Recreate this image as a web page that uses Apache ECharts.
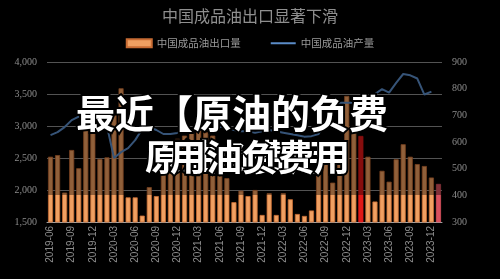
<!DOCTYPE html>
<html lang="zh">
<head>
  <meta charset="UTF-8">
  <title>中国成品油出口显著下滑</title>
  <style>
    html, body { margin: 0; padding: 0; background: #000; }
    #main { width: 500px; height: 279px; }
  </style>
</head>
<body>
  <div id="main"></div>
  <script src="https://cdn.jsdelivr.net/npm/echarts@6/dist/echarts.min.js"></script>
  <script>
    // 月份：2019-06 到 2024-01
    var months = [];
    for (var y = 2019, m = 6; y < 2024 || m <= 1; ) {
      months.push(y + '-' + (m < 10 ? '0' + m : m));
      m++;
      if (m > 12) { m = 1; y++; }
    }

    // 中国成品油出口量（左轴）
    var exportVol = [
      2520, 2545, 1960, 2625, 2340, 3000, 3050, 2485, 2510, 3250,
      3590, 1885, 1885, 1600, 2045, 1905, 2700, 2750, 2800, 2850,
      2900, 2950, 2900, 2850, 2600, 2185, 1810, 1990, 1905, 2000,
      1610, 1950, 1610, 1950, 1855, 1625, 1595, 1680, 2500, 2600,
      2115, 2450, 3470, 3000, 2845, 2520, 1820, 2300, 2130, 2480,
      2715, 2520, 2405, 2375, 2195, 2095
    ];

    // 中国成品油产量（右轴）
    var output = [
      626, 637, 656, 682, 695, 700, 705, 700, 660, 540,
      562, 577, 607, 649, 656, 645, 630, 630, 634, 645,
      645, 649, 645, 652, 656, 656, 645, 640, 640, 635,
      640, 645, 640, 635, 630, 625, 620, 622, 630, 680,
      720, 747, 747, 747, 749, 755, 780, 798, 785, 822,
      855, 850, 838, 778, 789, null
    ];

    // 标红的柱子
    var redBars = { '2023-02': '#e01818', '2024-01': '#d8505e' };

    var barColor = '#f0a062';
    var lineColor = '#5b8cc8';
    var labelColor = '#8c8c8c';

    var barData = exportVol.map(function (v, i) {
      var c = redBars[months[i]];
      return c ? { value: v, itemStyle: { color: c, borderColor: c } } : v;
    });

    // 图例里的细线（上下角各留一个极小点，撑开 8px 的高度）
    var lineIcon = 'path://M0,0h0.01v0.01zM0,3h25v2h-25zM0,8h0.01v0.01z';

    var myChart = echarts.init(document.getElementById('main'));

    var option = {
      backgroundColor: '#000',
      animation: false,
      title: {
        text: '中国成品油出口显著下滑',
        left: 'center',
        top: 3,
        textStyle: {
          color: '#8f8f8f',
          fontSize: 16,
          fontWeight: 'normal',
          fontFamily: 'Noto Sans CJK SC'
        }
      },
      legend: {
        top: 33,
        left: 'center',
        itemWidth: 25,
        itemHeight: 8,
        itemGap: 30,
        textStyle: { color: '#9a9a9a', fontSize: 10.5, fontFamily: 'Noto Sans CJK SC' },
        data: [
          { name: '中国成品油出口量', icon: 'rect' },
          { name: '中国成品油产量', icon: lineIcon, itemStyle: { color: lineColor, borderWidth: 0 } }
        ]
      },
      grid: { left: 47, right: 58, top: 62, bottom: 57 },
      xAxis: {
        type: 'category',
        data: months,
        axisLine: { lineStyle: { color: '#a0a0a0' } },
        axisTick: { interval: 2, length: 4, lineStyle: { color: '#a0a0a0' } },
        axisLabel: {
          interval: 2,
          rotate: 90,
          margin: 4,
          color: labelColor,
          fontSize: 10,
          fontFamily: 'Liberation Sans'
        }
      },
      yAxis: [
        {
          type: 'value',
          min: 1500,
          max: 4000,
          interval: 500,
          axisLine: { show: false },
          axisTick: { show: false },
          axisLabel: {
            color: labelColor,
            fontSize: 10,
            margin: 10,
            fontFamily: 'Liberation Serif',
            formatter: function (v) { return v.toLocaleString('en-US'); }
          },
          splitLine: { lineStyle: { color: '#8a8a8a', width: 1 } }
        },
        {
          type: 'value',
          min: 300,
          max: 900,
          interval: 100,
          axisLine: { show: false },
          axisTick: { show: false },
          axisLabel: {
            color: labelColor,
            fontSize: 10,
            margin: 10,
            fontFamily: 'Liberation Serif'
          },
          splitLine: { show: false }
        }
      ],
      series: [
        {
          name: '中国成品油出口量',
          type: 'bar',
          data: barData,
          barCategoryGap: '28%',
          itemStyle: { color: barColor, borderColor: '#c86c34', borderWidth: 0.8 }
        },
        {
          name: '中国成品油产量',
          type: 'line',
          yAxisIndex: 1,
          data: output,
          symbol: 'none',
          lineStyle: { color: lineColor, width: 2 },
          itemStyle: { color: lineColor }
        }
      ],
      graphic: [
        {
          type: 'rect',
          z: 50,
          silent: true,
          shape: { x: 45, y: 55, width: 400, height: 140 },
          style: { fill: 'rgba(0,0,0,0.4)' }
        },
        {
          type: 'text',
          z: 100,
          x: 76,
          y: 113,
          style: {
            text: '最近【原油的负费',
            font: 'bold 39px "Noto Sans CJK SC"',
            fill: '#fff',
            stroke: '#000',
            lineWidth: 4,
            verticalAlign: 'middle'
          }
        },
        {
          type: 'text',
          z: 100,
          x: 145,
          y: 157,
          style: {
            text: '原油负费用',
            font: 'bold 36px "Noto Sans CJK SC"',
            fill: '#fff',
            stroke: '#000',
            lineWidth: 4,
            verticalAlign: 'middle'
          }
        },
        {
          type: 'text',
          z: 101,
          x: 170,
          y: 157,
          style: {
            text: '用油负费用',
            font: 'bold 36px "Noto Sans CJK SC"',
            fill: '#fff',
            stroke: '#000',
            lineWidth: 4,
            verticalAlign: 'middle'
          }
        }
      ]
    };

    myChart.setOption(option);
  </script>
</body>
</html>
